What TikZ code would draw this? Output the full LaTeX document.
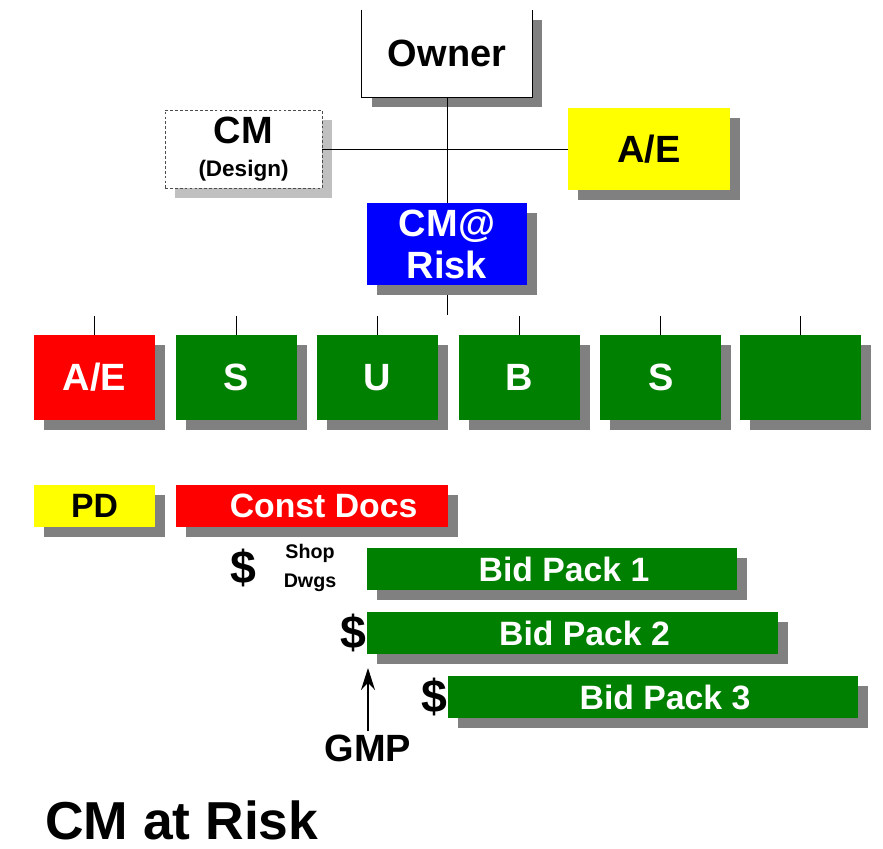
\documentclass[tikz,border=0pt]{standalone}
\usepackage{fontspec}
\setmainfont{Liberation Sans}
\usetikzlibrary{arrows.meta, positioning, shadows}
\definecolor{boxgreen}{HTML}{008000}
\definecolor{boxblue}{HTML}{0000FF}
\definecolor{boxred}{HTML}{FF0000}
\definecolor{boxyellow}{HTML}{FFFF00}
\definecolor{shadegray}{HTML}{808080}
\definecolor{lightshade}{HTML}{C0C0C0}

\begin{document}
\begin{tikzpicture}[x=0.025cm, y=-0.025cm,
  box/.style={rectangle, inner sep=0pt, align=center, font=\fontsize{27}{31}\selectfont\bfseries},
  dark/.style={drop shadow={shadow xshift=0.25cm, shadow yshift=-0.25cm, fill=shadegray, opacity=1}},
  light/.style={drop shadow={shadow xshift=0.25cm, shadow yshift=-0.25cm, fill=lightshade, opacity=1}},
  unit/.style={box, dark, minimum width=3.025cm, minimum height=2.125cm, fill=boxgreen, text=white},
  bar/.style={box, dark, minimum height=1.05cm, font=\fontsize{24}{28}\selectfont\bfseries},
  money/.style={inner sep=0pt, font=\fontsize{33}{36}\selectfont\bfseries},
  link/.style={line width=0.6pt},
  arrow/.style={-{Stealth[length=0.55cm, width=0.35cm]}, line width=0.8pt}]

\useasboundingbox (0,0) rectangle (883,849);

% organisation
\node[box, dark, fill=white, minimum width=4.25cm, minimum height=2.175cm] (owner) at (447,53.5) {Owner};
\draw[link] (owner.north west) |- (owner.south east) -- (owner.north east);
\node[box, light, fill=white, draw=black!70, dash pattern=on 2pt off 1.5pt,
  minimum width=3.925cm, minimum height=1.95cm] (cmd) at (243.5,149)
  {CM\\[-7pt]{\fontsize{16}{19}\selectfont (Design)}};
\node[box, dark, fill=boxyellow, minimum width=4.05cm, minimum height=2.05cm] (ae) at (649,149) {A/E};
\node[box, dark, fill=boxblue, text=white, minimum width=4cm, minimum height=2.05cm,
  font=\fontsize{27}{30}\selectfont\bfseries] (risk) at (447,244) {CM@\\Risk};

\draw[link] (cmd.east) -- (ae.west);
\draw[link] (owner.south) -- (risk.north);
\coordinate (split) at (447,315);
\draw[link] ([yshift=-0.25cm]risk.south) -- (split);

% trade contracts
\node[unit, fill=boxred] (ae2) at (94.5,377.5) {A/E};
\node[unit, right=0.5cm of ae2] (s1) {S};
\node[unit, right=0.5cm of s1] (u) {U};
\node[unit, right=0.5cm of u] (b) {B};
\node[unit, right=0.5cm of b] (s2) {S};
\node[unit, right=0.45cm of s2] (blank) {};
\foreach \n in {ae2, s1, u, b, s2, blank}
  \draw[link] (\n.north) -- ++(0,0.475cm);

% schedule
\node[bar, fill=boxyellow, minimum width=3.025cm] (pd) at (94.5,506) {PD};
\node[bar, fill=boxred, text=white, minimum width=6.8cm, right=0.5cm of pd] (docs) {\hspace{0.6cm}Const Docs};
\node[bar, fill=boxgreen, text=white, minimum width=9.25cm] (bp1) at (552,569) {\hspace{0.6cm}Bid Pack 1};
\node[bar, fill=boxgreen, text=white, minimum width=10.275cm] (bp2) at (572.5,633) {\hspace{0.6cm}Bid Pack 2};
\node[bar, fill=boxgreen, text=white, minimum width=10.25cm] (bp3) at (653,697) {\hspace{0.6cm}Bid Pack 3};

\node[money] (cash1) at (243,568) {\$};
\node[inner sep=0pt, align=center, font=\fontsize{14}{20}\selectfont\bfseries] (shop) at (310,568) {Shop\\Dwgs};
\node[money, anchor=east] (cash2) at (bp2.west) {\$};
\node[money, anchor=east] (cash3) at (bp3.west) {\$};

\node[inner sep=2pt, font=\fontsize{27}{31}\selectfont\bfseries] (gmp) at (368,748) {GMP};
\coordinate (gmptip) at (368,668);
\draw[arrow] (gmp.north) -- (gmptip);

\node[anchor=west, inner sep=0pt, font=\fontsize{38}{42}\selectfont\bfseries] (title) at (45,820) {CM at Risk};
\end{tikzpicture}
\end{document}
